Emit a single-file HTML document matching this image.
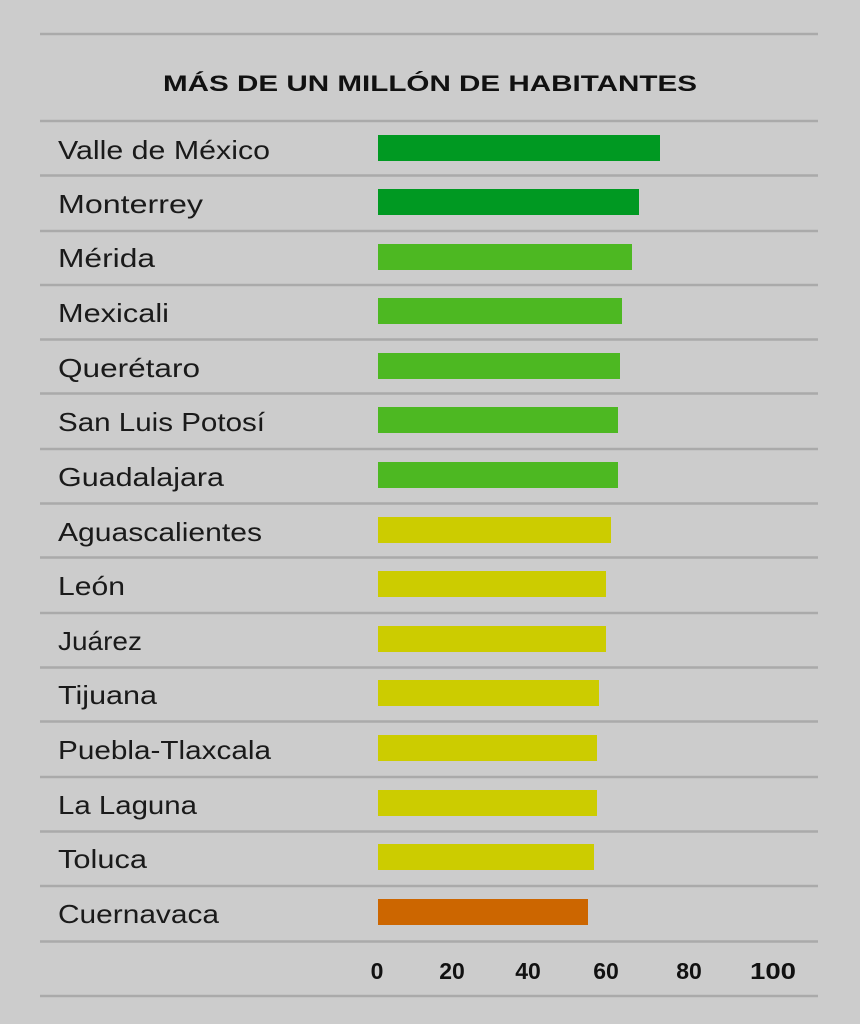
<!DOCTYPE html>
<html><head><meta charset="utf-8"><style>html,body{margin:0;padding:0;background:#cccccc;}svg{display:block}</style></head>
<body>
<svg width="860" height="1024" viewBox="0 0 860 1024" xmlns="http://www.w3.org/2000/svg" font-family="Liberation Sans, DejaVu Sans, sans-serif">
<rect width="860" height="1024" fill="#cccccc"/>
<g stroke="#aaaaaa" stroke-width="2.5">
<line x1="40" x2="818" y1="34" y2="34"/>
<line x1="40" x2="818" y1="121" y2="121"/>
<line x1="40" x2="818" y1="175.5" y2="175.5"/>
<line x1="40" x2="818" y1="231" y2="231"/>
<line x1="40" x2="818" y1="285" y2="285"/>
<line x1="40" x2="818" y1="339.5" y2="339.5"/>
<line x1="40" x2="818" y1="393.5" y2="393.5"/>
<line x1="40" x2="818" y1="449" y2="449"/>
<line x1="40" x2="818" y1="503.5" y2="503.5"/>
<line x1="40" x2="818" y1="557.5" y2="557.5"/>
<line x1="40" x2="818" y1="613" y2="613"/>
<line x1="40" x2="818" y1="667.5" y2="667.5"/>
<line x1="40" x2="818" y1="721.5" y2="721.5"/>
<line x1="40" x2="818" y1="777" y2="777"/>
<line x1="40" x2="818" y1="831.5" y2="831.5"/>
<line x1="40" x2="818" y1="886" y2="886"/>
<line x1="40" x2="818" y1="941.5" y2="941.5"/>
<line x1="40" x2="818" y1="996" y2="996"/>
</g>
<text x="430" y="91" text-anchor="middle" font-weight="bold" font-size="22" fill="#111" textLength="534" lengthAdjust="spacingAndGlyphs">MÁS DE UN MILLÓN DE HABITANTES</text>
<g font-size="26" fill="#1a1a1a">
<text x="58" y="159" textLength="212" lengthAdjust="spacingAndGlyphs">Valle de México</text>
<text x="58" y="213" textLength="145" lengthAdjust="spacingAndGlyphs">Monterrey</text>
<text x="58" y="267" textLength="97" lengthAdjust="spacingAndGlyphs">Mérida</text>
<text x="58" y="322" textLength="111" lengthAdjust="spacingAndGlyphs">Mexicali</text>
<text x="58" y="377" textLength="142" lengthAdjust="spacingAndGlyphs">Querétaro</text>
<text x="58" y="431" textLength="207" lengthAdjust="spacingAndGlyphs">San Luis Potosí</text>
<text x="58" y="486" textLength="166" lengthAdjust="spacingAndGlyphs">Guadalajara</text>
<text x="58" y="541" textLength="204" lengthAdjust="spacingAndGlyphs">Aguascalientes</text>
<text x="58" y="595" textLength="67" lengthAdjust="spacingAndGlyphs">León</text>
<text x="58" y="650" textLength="84" lengthAdjust="spacingAndGlyphs">Juárez</text>
<text x="58" y="704" textLength="99" lengthAdjust="spacingAndGlyphs">Tijuana</text>
<text x="58" y="759" textLength="213" lengthAdjust="spacingAndGlyphs">Puebla-Tlaxcala</text>
<text x="58" y="814" textLength="139" lengthAdjust="spacingAndGlyphs">La Laguna</text>
<text x="58" y="868" textLength="89" lengthAdjust="spacingAndGlyphs">Toluca</text>
<text x="58" y="923" textLength="161" lengthAdjust="spacingAndGlyphs">Cuernavaca</text>
</g>
<g>
<rect x="378" y="135" width="282" height="26" fill="#009922"/>
<rect x="378" y="189" width="261" height="26" fill="#009922"/>
<rect x="378" y="244" width="254" height="26" fill="#4db822"/>
<rect x="378" y="298" width="244" height="26" fill="#4db822"/>
<rect x="378" y="353" width="242" height="26" fill="#4db822"/>
<rect x="378" y="407" width="240" height="26" fill="#4db822"/>
<rect x="378" y="462" width="240" height="26" fill="#4db822"/>
<rect x="378" y="517" width="233" height="26" fill="#cccc00"/>
<rect x="378" y="571" width="228" height="26" fill="#cccc00"/>
<rect x="378" y="626" width="228" height="26" fill="#cccc00"/>
<rect x="378" y="680" width="221" height="26" fill="#cccc00"/>
<rect x="378" y="735" width="219" height="26" fill="#cccc00"/>
<rect x="378" y="790" width="219" height="26" fill="#cccc00"/>
<rect x="378" y="844" width="216" height="26" fill="#cccc00"/>
<rect x="378" y="899" width="210" height="26" fill="#cc6600"/>
</g>
<g font-size="23" font-weight="bold" fill="#111" text-anchor="middle">
<text x="377" y="979">0</text>
<text x="452" y="979">20</text>
<text x="528" y="979">40</text>
<text x="606" y="979">60</text>
<text x="689" y="979">80</text>
<text x="773" y="979" textLength="46" lengthAdjust="spacingAndGlyphs">100</text>
</g>
</svg>
</body></html>
